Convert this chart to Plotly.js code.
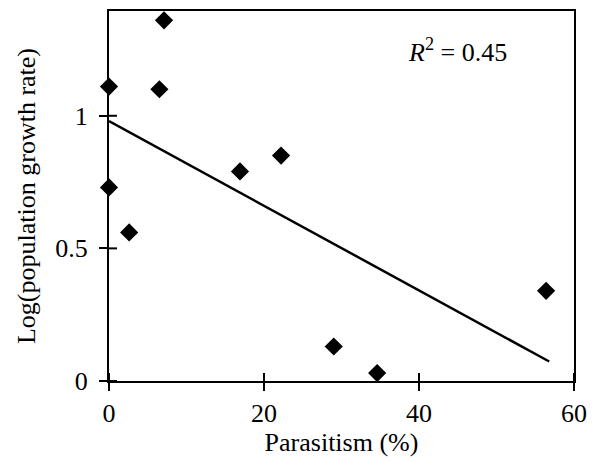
<!DOCTYPE html>
<html>
<head>
<meta charset="utf-8">
<script src="https://cdn.plot.ly/plotly-3.0.1.min.js"></script>
<style>html,body{margin:0;padding:0;background:#fff;}#chart{width:595px;height:462px;}</style>
</head>
<body>
<div id="chart"></div>
<script>
// Data
const parasitism = [0, 0, 2.6, 6.5, 7.1, 16.9, 22.2, 29.0, 34.6, 56.4];
const logGrowth  = [1.11, 0.73, 0.56, 1.10, 1.36, 0.79, 0.85, 0.13, 0.03, 0.34];
const xTicks = [0, 20, 40, 60];
const yTicks = [0, 0.5, 1];
const yTickText = ['0', '0.5', '1'];

// least-squares fit computed from the data
const n = parasitism.length;
const mx = parasitism.reduce((a, b) => a + b, 0) / n;
const my = logGrowth.reduce((a, b) => a + b, 0) / n;
let sxy = 0, sxx = 0, syy = 0;
for (let i = 0; i < n; i++) {
  const dx = parasitism[i] - mx, dy = logGrowth[i] - my;
  sxy += dx * dy; sxx += dx * dx; syy += dy * dy;
}
const slope = sxy / sxx;
const intercept = my - slope * mx;
const r2 = (sxy * sxy) / (sxx * syy);
const fitX = [Math.min(...parasitism), Math.max(...parasitism) + 0.4];
const fitY = fitX.map(x => intercept + slope * x);

const font = 'Liberation Serif';

const traces = [
  {x: fitX, y: fitY, mode: 'lines', type: 'scatter',
   line: {color: '#000', width: 2.5}, hoverinfo: 'skip', showlegend: false},
  {x: parasitism, y: logGrowth, mode: 'markers', type: 'scatter',
   marker: {symbol: 'diamond', size: 14, color: '#000'}, cliponaxis: false, showlegend: false}
];

// inner halves of the crossing tick marks
const tickShapes = [];
xTicks.forEach(v => tickShapes.push({
  type: 'line', xref: 'x', yref: 'y', ysizemode: 'pixel', yanchor: 0,
  x0: v, x1: v, y0: 0, y1: 8, line: {color: '#000', width: 2}
}));
yTicks.forEach(v => tickShapes.push({
  type: 'line', xref: 'x', yref: 'y', xsizemode: 'pixel', xanchor: 0,
  x0: 0, x1: 8, y0: v, y1: v, line: {color: '#000', width: 2}
}));

const layout = {
  width: 595, height: 462,
  margin: {l: 109, r: 20.5, t: 11, b: 81.3},
  paper_bgcolor: '#fff', plot_bgcolor: '#fff',
  font: {family: font, color: '#000', size: 26},
  showlegend: false,
  xaxis: {
    range: [0, 60], tickvals: xTicks, ticktext: xTicks.map(String),
    ticks: 'outside', ticklen: 8, tickwidth: 2, tickcolor: '#000',
    showline: true, linecolor: '#000', linewidth: 2, mirror: true,
    showgrid: false, zeroline: false, ticklabelstandoff: 0,
    tickfont: {family: font, size: 26, color: '#000'},
    title: {text: 'Parasitism (%)', font: {family: font, size: 26, color: '#000'}, standoff: 6}
  },
  yaxis: {
    range: [0, 1.395], tickvals: yTicks, ticktext: yTickText,
    ticks: 'outside', ticklen: 8, tickwidth: 2, tickcolor: '#000',
    showline: true, linecolor: '#000', linewidth: 2, mirror: true,
    showgrid: false, zeroline: false, ticklabelstandoff: 6,
    tickfont: {family: font, size: 26, color: '#000'},
    title: {text: 'Log(population growth rate)', font: {family: font, size: 26, color: '#000'}, standoff: 12}
  },
  shapes: tickShapes,
  annotations: [{
    x: 45, y: 1.245, xref: 'x', yref: 'y', showarrow: false,
    text: '<i>R</i><sup>2</sup> = ' + r2.toFixed(2),
    font: {family: font, size: 26, color: '#000'}
  }]
};

Plotly.newPlot('chart', traces, layout, {displayModeBar: false, staticPlot: true});
</script>
</body>
</html>
